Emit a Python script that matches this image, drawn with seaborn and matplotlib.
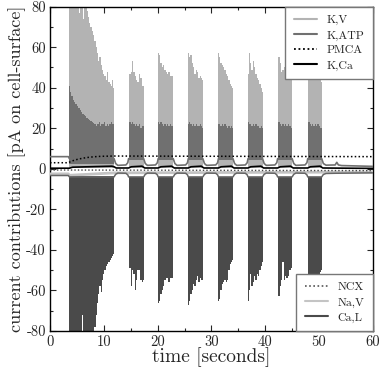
import numpy as np
import matplotlib
matplotlib.use("Agg")
import matplotlib.pyplot as plt
from matplotlib.lines import Line2D
from matplotlib.ticker import MultipleLocator
import seaborn as sns

# --- burst windows [s] ---
burst_start = [3.6, 14.6, 20.1, 25.7, 31.3, 36.8, 42.3, 47.9]
burst_end = [11.9, 17.4, 22.9, 28.4, 34.0, 39.5, 45.0, 50.5]

# --- spike envelopes (pA) ---
kv_peak = [
    [85, 85, 85, 85, 85, 85, 85, 85, 77, 85, 85, 74, 85, 82, 78, 75, 72, 70,
     68, 66, 63, 60, 57, 53, 55, 51, 49, 47, 46, 44, 48, 43, 42, 41, 44, 40],
    [49, 47, 48, 53, 48, 46, 44, 43, 47, 45, 41, 41],
    [57, 56, 52, 50, 51, 49, 48, 47, 48, 46, 46, 45],
    [57, 55, 56, 52, 50, 47, 49, 48, 45, 46, 45, 44],
    [57, 55, 52, 51, 50, 49, 47, 46, 44, 42, 41, 40],
    [47, 57, 52, 49, 53, 50, 47, 45, 44, 42, 40, 38],
    [57, 55, 52, 48, 49, 50, 48, 47, 46, 46, 45, 44],
    [49, 52, 50, 48, 53, 48, 47, 46, 45, 44, 44, 43],
]
katp_peak = [
    [41, 38, 36, 34, 33, 32, 31, 30, 29, 28, 27, 26.5, 26, 25, 24.5, 24, 23.5,
     23, 22.5, 22, 21, 22, 23, 21, 22, 22, 23, 21, 22, 21, 22, 23, 22, 22],
    [24, 23, 22, 23, 22, 21, 22, 21, 22, 20, 21, 21],
    [23, 22, 23, 22, 21, 22, 21, 22, 21, 22, 21, 20],
    [22, 23, 22, 21, 22, 21, 22, 21, 21, 22, 21, 20],
    [22, 22, 21, 22, 21, 22, 21, 20, 21, 20, 21, 20],
    [23, 22, 22, 21, 22, 21, 22, 21, 21, 20, 21, 20],
    [22, 23, 22, 21, 22, 21, 22, 21, 22, 21, 21, 20],
    [24, 23, 22, 21, 22, 21, 22, 21, 22, 21, 20, 20],
]
cal_peak = [
    [-85, -85, -85, -85, -85, -85, -85, -85, -85, -85, -72, -85, -85, -85, -80,
     -85, -85, -85, -85, -82, -78, -72, -66, -62, -58, -61, -55, -52, -50, -48,
     -47, -46, -45, -44, -43, -42],
    [-49, -49, -58, -50, -52, -60, -55, -50, -50, -55, -56, -55],
    [-66, -65, -62, -60, -58, -55, -54, -54, -56, -54, -54, -54],
    [-67, -65, -62, -60, -57, -58, -55, -53, -56, -54, -55, -55],
    [-65, -64, -60, -57, -56, -55, -56, -55, -50, -47, -46, -45],
    [-65, -60, -52, -58, -56, -53, -55, -52, -53, -50, -48, -46],
    [-65, -63, -58, -55, -46, -55, -53, -54, -53, -50, -50, -49],
    [-55, -54, -56, -54, -55, -54, -54, -53, -54, -52, -51, -50],
]
kv_floor = 0.6
katp_floor = [2.5, 4.5, 4.5, 4.5, 4.5, 4.5, 4.5, 4.5]
cal_top = [-3.5, -4.0, -4.0, -4.0, -4.0, -4.0, -4.0, -4.0]

# --- slow baseline currents ---
katp_t = [0, 3.4, 3.6, 11.9, 12.2, 12.6, 14.1, 14.45, 14.6, 17.4, 17.7, 18.1,
          19.6, 19.95, 20.1, 22.9, 23.2, 23.6, 25.2, 25.55, 25.7, 28.4, 28.7,
          29.1, 30.8, 31.15, 31.3, 34.0, 34.3, 34.7, 36.3, 36.65, 36.8, 39.5,
          39.8, 40.2, 41.8, 42.15, 42.3, 45.0, 45.3, 45.7, 47.4, 47.75, 47.9,
          50.5, 50.8, 51.3, 53.0, 53.3, 53.6, 54.2, 60]
katp_v = [6.0, 6.0, 5.0, 5.0, 2.6, 1.7, 1.9, 3.0, 5.0, 5.0, 2.6, 1.7,
          1.9, 3.0, 5.0, 5.0, 2.6, 1.7, 1.9, 3.0, 5.0, 5.0, 2.6,
          1.7, 1.9, 3.0, 5.0, 5.0, 2.6, 1.7, 1.9, 3.0, 5.0, 5.0,
          2.6, 1.7, 1.9, 3.0, 5.0, 5.0, 2.6, 1.7, 1.9, 3.0, 5.0,
          5.0, 2.6, 1.8, 1.9, 3.2, 1.9, 1.6, 1.2]
cal_t = [0, 3.4, 3.6, 11.9, 12.2, 12.6, 14.1, 14.45, 14.6, 17.4, 17.7, 18.1,
         19.6, 19.95, 20.1, 22.9, 23.2, 23.6, 25.2, 25.55, 25.7, 28.4, 28.7,
         29.1, 30.8, 31.15, 31.3, 34.0, 34.3, 34.7, 36.3, 36.65, 36.8, 39.5,
         39.8, 40.2, 41.8, 42.15, 42.3, 45.0, 45.3, 45.7, 47.4, 47.75, 47.9,
         50.5, 50.8, 51.3, 53.0, 60]
cal_v = [-3.3, -3.3, -4.0, -4.0, -2.7, -2.1, -2.2, -3.0, -4.0, -4.0, -2.7, -2.1,
         -2.2, -3.0, -4.0, -4.0, -2.7, -2.1, -2.2, -3.0, -4.0, -4.0, -2.7,
         -2.1, -2.2, -3.0, -4.0, -4.0, -2.7, -2.1, -2.2, -3.0, -4.0, -4.0,
         -2.7, -2.1, -2.2, -3.0, -4.0, -4.0, -2.7, -2.1, -2.2, -3.0, -4.0,
         -4.0, -2.8, -2.3, -2.2, -2.0]
nav_t = [0, 3.4, 3.6, 12.0, 60]
nav_v = [-2.5, -2.5, -3.2, -2.0, -1.6]
pmca_t = [0, 3.4, 4, 5, 6, 7, 8, 9, 10, 12, 60]
pmca_v = [3.0, 3.0, 3.8, 4.6, 5.2, 5.6, 5.9, 6.1, 6.2, 6.3, 6.0]
ncx_t = [0, 3.5, 60]
ncx_v = [-0.6, -0.6, -0.9]
kca_t = [0, 3.6, 4.2, 11.5, 11.9, 12.3, 14.6, 15.1, 17.1, 17.6, 20.1, 20.6,
         22.6, 23.1, 25.7, 26.2, 28.1, 28.6, 31.3, 31.8, 33.7, 34.2, 36.8,
         37.3, 39.2, 39.7, 42.3, 42.8, 44.7, 45.2, 47.9, 48.4, 50.2, 50.7, 60]
kca_v = [0.3, 0.3, 0.8, 1.3, 1.0, 0.4, 0.4, 1.0, 1.3, 0.4, 0.4, 1.0,
         1.3, 0.4, 0.4, 1.0, 1.3, 0.4, 0.4, 1.0, 1.3, 0.4, 0.4,
         1.0, 1.3, 0.4, 0.4, 1.0, 1.3, 0.4, 0.4, 1.0, 1.3, 0.4, 0.2]

KV_COL = "#b3b3b3"
KATP_COL = "#707070"
CAL_COL = "#4a4a4a"
NAV_COL = "#c4c4c4"

sns.set_style("ticks")
plt.rcParams["font.family"] = ["cmr10", "DejaVu Serif"]
plt.rcParams["axes.unicode_minus"] = False
plt.rcParams["mathtext.fontset"] = "cm"

fig, ax = plt.subplots(figsize=(3.82, 3.71), dpi=100)
fig.subplots_adjust(left=0.131, right=0.976, bottom=0.108, top=0.982)

# spiking bursts
for i, (s, e) in enumerate(zip(burst_start, burst_end)):
    t = np.linspace(s, e, len(kv_peak[i]))
    ax.fill_between(t, kv_floor, kv_peak[i], step="mid", color=KV_COL, lw=0, zorder=1)
    t = np.linspace(s, e, len(katp_peak[i]))
    ax.fill_between(t, katp_floor[i], katp_peak[i], step="mid", color=KATP_COL, lw=0, zorder=2)
    t = np.linspace(s, e, len(cal_peak[i]))
    ax.fill_between(t, cal_top[i], cal_peak[i], step="mid", color=CAL_COL, lw=0, zorder=2)

kw = dict(ax=ax, estimator=None, sort=False, legend=False)
sns.lineplot(x=nav_t, y=nav_v, color=NAV_COL, lw=2.0, zorder=3, **kw)
sns.lineplot(x=cal_t, y=cal_v, color="#666666", lw=1.1, zorder=3, **kw)
sns.lineplot(x=katp_t, y=katp_v, color=KATP_COL, lw=1.2, zorder=3, **kw)
sns.lineplot(x=ncx_t, y=ncx_v, color="#444444", lw=1.0, linestyle=(0, (1, 1.5)), zorder=4, **kw)
sns.lineplot(x=kca_t, y=kca_v, color="black", lw=1.2, zorder=4, **kw)
sns.lineplot(x=pmca_t, y=pmca_v, color="black", lw=1.1, linestyle=(0, (1, 1.5)), zorder=5, **kw)

ax.set_xlim(0, 60)
ax.set_ylim(-80, 80)
ax.xaxis.set_major_locator(MultipleLocator(10))
ax.xaxis.set_minor_locator(MultipleLocator(5))
ax.yaxis.set_major_locator(MultipleLocator(20))
ax.yaxis.set_minor_locator(MultipleLocator(10))
ax.tick_params(which="both", direction="in", top=True, right=True, width=0.8)
ax.tick_params(which="major", length=4, labelsize=10.5, pad=3)
ax.tick_params(which="minor", length=2)
for sp in ax.spines.values():
    sp.set_linewidth(1.0)
    sp.set_color("black")

ax.set_xlabel("time [seconds]", fontsize=14, labelpad=-1)
ax.set_ylabel("current contributions [pA on cell-surface]", fontsize=13, labelpad=0)

leg_kw = dict(fontsize=8.5, frameon=True, fancybox=False, framealpha=1,
              edgecolor="#777777", handlelength=2.0, labelspacing=0.4,
              borderpad=0.7, handletextpad=0.8, borderaxespad=0)
top_handles = [Line2D([], [], color=KV_COL, lw=1.5),
               Line2D([], [], color=KATP_COL, lw=1.5),
               Line2D([], [], color="black", lw=1.3, linestyle=(0, (1, 1.5))),
               Line2D([], [], color="black", lw=1.5)]
leg1 = ax.legend(top_handles, ["K,V", "K,ATP", "PMCA", "K,Ca"], loc="upper right", **leg_kw)
leg1.get_frame().set_linewidth(1.0)
ax.add_artist(leg1)
bot_handles = [Line2D([], [], color="#555555", lw=1.2, linestyle=(0, (1, 1.5))),
               Line2D([], [], color=NAV_COL, lw=1.5),
               Line2D([], [], color=CAL_COL, lw=1.5)]
leg2 = ax.legend(bot_handles, ["NCX", "Na,V", "Ca,L"], loc="lower right", **leg_kw)
leg2.get_frame().set_linewidth(1.0)

plt.savefig("out.png", dpi=100)
plt.close()
